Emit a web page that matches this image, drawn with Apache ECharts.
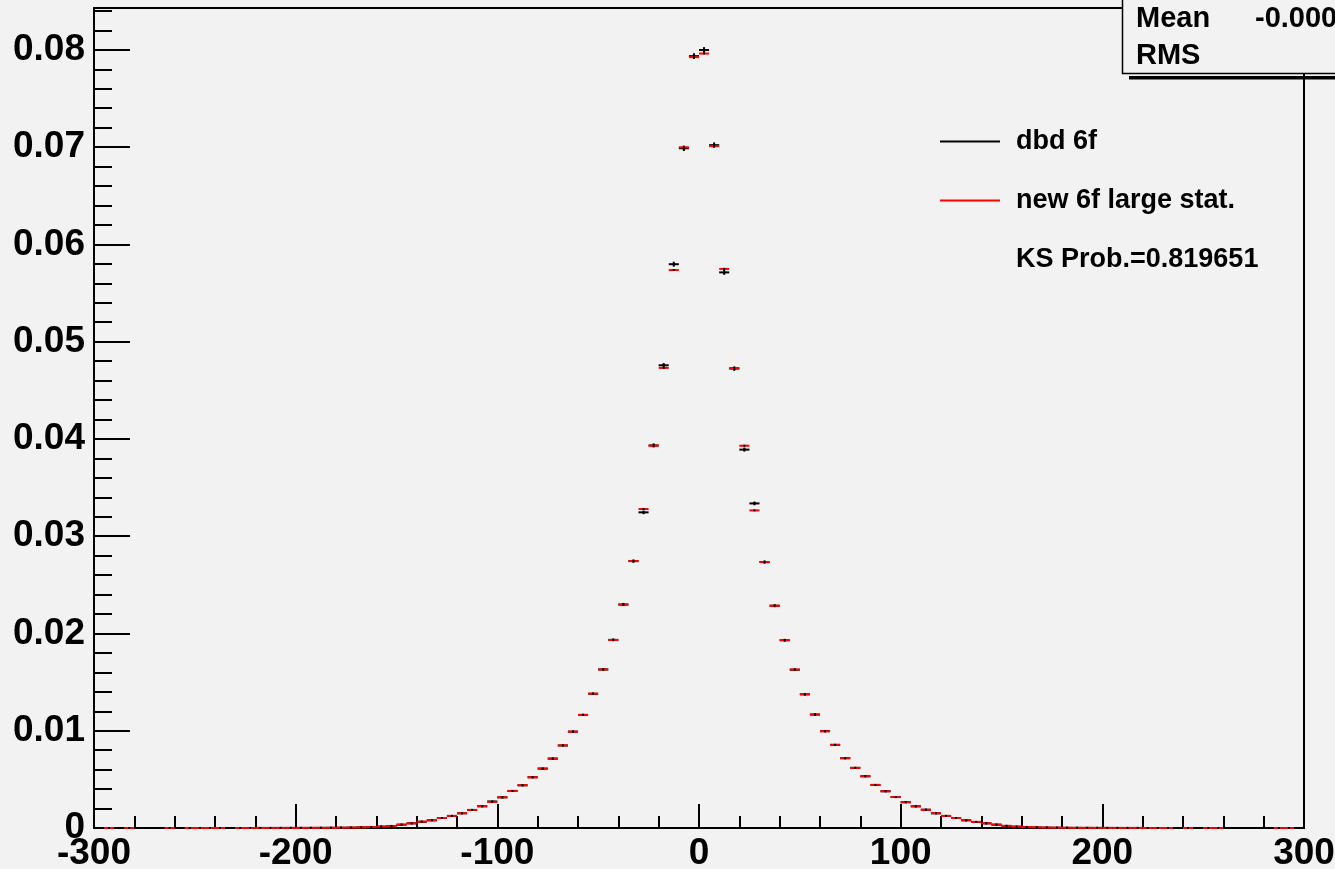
<!DOCTYPE html>
<html>
<head>
<meta charset="utf-8">
<script src="https://cdn.jsdelivr.net/npm/echarts@6/dist/echarts.min.js"></script>
<style>
html,body{margin:0;padding:0;background:#f2f2f2;}
#c{width:1335px;height:869px;}
</style>
</head>
<body>
<div id="c"></div>
<script>
// ---- histogram binning (bin centres, width 5, range -300..300) ----
const binWidth = 5;
const binCenters = [
  -297.5,-292.5,-287.5,-282.5,-277.5,-272.5,-267.5,-262.5,-257.5,-252.5,
  -247.5,-242.5,-237.5,-232.5,-227.5,-222.5,-217.5,-212.5,-207.5,-202.5,
  -197.5,-192.5,-187.5,-182.5,-177.5,-172.5,-167.5,-162.5,-157.5,-152.5,
  -147.5,-142.5,-137.5,-132.5,-127.5,-122.5,-117.5,-112.5,-107.5,-102.5,
  -97.5,-92.5,-87.5,-82.5,-77.5,-72.5,-67.5,-62.5,-57.5,-52.5,
  -47.5,-42.5,-37.5,-32.5,-27.5,-22.5,-17.5,-12.5,-7.5,-2.5,
  2.5,7.5,12.5,17.5,22.5,27.5,32.5,37.5,42.5,47.5,
  52.5,57.5,62.5,67.5,72.5,77.5,82.5,87.5,92.5,97.5,
  102.5,107.5,112.5,117.5,122.5,127.5,132.5,137.5,142.5,147.5,
  152.5,157.5,162.5,167.5,172.5,177.5,182.5,187.5,192.5,197.5,
  202.5,207.5,212.5,217.5,222.5,227.5,232.5,237.5,242.5,247.5,
  252.5,257.5,262.5,267.5,272.5,277.5,282.5,287.5,292.5,297.5
];

// ---- series "dbd 6f" (black) ----
const dbd6f = [
  null,0.000003,null,0.000003,null,null,null,0.000003,null,0.000003,
  0.000003,0.000003,0.000003,null,0.000003,0.000003,0.000005,0.000005,0.000006,0.000008,
  0.00001,0.000012,0.000015,0.00002,0.00003,0.00004,0.00006,0.00009,0.00014,0.0002,
  0.00034,0.00048,0.00064,0.00079,0.00103,0.00124,0.00151,0.00185,0.00224,0.00273,
  0.00315,0.00381,0.00439,0.00522,0.00611,0.00713,0.00848,0.00991,0.01163,0.0138,
  0.0163,0.01934,0.02298,0.02744,0.03245,0.03933,0.04757,0.05796,0.06988,0.07935,
  0.07998,0.0702,0.05712,0.04723,0.0389,0.03337,0.02734,0.02285,0.0193,0.01627,
  0.01374,0.01167,0.00996,0.00855,0.00718,0.00618,0.00532,0.00443,0.00378,0.00319,
  0.00265,0.00223,0.00188,0.00151,0.00124,0.00103,0.00079,0.00062,0.00048,0.00034,
  0.00021,0.00013,0.0001,0.00006,0.00004,0.00003,0.00002,0.000015,0.000012,0.00001,
  0.000008,0.000006,0.000005,0.000005,0.000003,0.000003,0.000003,null,0.000003,null,
  0.000003,0.000003,null,null,null,null,null,0.000003,0.000003,null
];

// ---- series "new 6f large stat." (red) ----
const new6f = [
  null,0.000003,null,0.000003,null,null,null,0.000003,null,0.000003,
  0.000003,0.000003,0.000003,null,0.000003,0.000003,0.000005,0.000005,0.000006,0.000008,
  0.00001,0.000012,0.000015,0.00002,0.00003,0.00004,0.00006,0.0001,0.00014,0.00021,
  0.00034,0.00048,0.00065,0.0008,0.00103,0.00124,0.00152,0.00186,0.00223,0.00268,
  0.00316,0.0038,0.0044,0.00521,0.0061,0.00714,0.0085,0.0099,0.01162,0.01381,
  0.0163,0.01933,0.02296,0.02744,0.03279,0.0393,0.0473,0.05736,0.06998,0.07925,
  0.07962,0.0701,0.05748,0.04729,0.0393,0.03265,0.02734,0.02285,0.01932,0.0163,
  0.01376,0.01166,0.00994,0.00854,0.00717,0.00618,0.00532,0.00442,0.00378,0.00318,
  0.00266,0.00223,0.00187,0.00152,0.00124,0.00103,0.0008,0.00063,0.00048,0.00035,
  0.00022,0.00014,0.0001,0.00006,0.00004,0.00003,0.00002,0.000015,0.000012,0.00001,
  0.000008,0.000006,0.000005,0.000005,0.000003,0.000003,0.000003,null,0.000003,null,
  0.000003,0.000003,null,null,null,null,null,0.000003,0.000003,null
];

// effective number of entries (histograms normalised to unit area; error = sqrt(content/N))
const dbdEntries = 900000;
const newEntries = 100000000;

// ---- axis ticks / labels ----
const xTickStep = 100;
const yMajorTicks = [0,0.01,0.02,0.03,0.04,0.05,0.06,0.07,0.08];
const yMinorTicks = [0.002,0.004,0.006,0.008,0.012,0.014,0.016,0.018,0.022,0.024,0.026,0.028,
  0.032,0.034,0.036,0.038,0.042,0.044,0.046,0.048,0.052,0.054,0.056,0.058,
  0.062,0.064,0.066,0.068,0.072,0.074,0.076,0.078,0.082,0.084];

const legendNames = ['dbd 6f','new 6f large stat.'];
const ksText = 'KS Prob.=0.819651';
const statsLabels = ['Mean','RMS'];
const statsValues = ['-0.000',''];

const FONT = '"Liberation Sans", Arial, Helvetica, sans-serif';

function buildData(values, entries) {
  const out = [];
  for (let i = 0; i < binCenters.length; i++) {
    if (values[i] == null) continue;
    out.push([binCenters[i], values[i], Math.sqrt(values[i] / entries)]);
  }
  return out;
}

function makeRender(color) {
  return function (params, api) {
    const xc = api.value(0), y = api.value(1), e = api.value(2);
    const p1 = api.coord([xc - binWidth / 2, y]);
    const p2 = api.coord([xc + binWidth / 2, y]);
    const cx = (p1[0] + p2[0]) / 2;
    const top = api.coord([xc, y + e]);
    const bot = api.coord([xc, y - e]);
    const children = [
      {type: 'line', shape: {x1: p1[0], y1: p1[1], x2: p2[0], y2: p2[1]},
       style: {stroke: color, lineWidth: 2}}
    ];
    if (bot[1] - top[1] > 2) {
      children.push({type: 'line', shape: {x1: cx, y1: top[1], x2: cx, y2: bot[1]},
        style: {stroke: color, lineWidth: 2}});
    }
    // marker (black dot, ROOT default marker colour)
    children.push({type: 'rect', shape: {x: cx - 1, y: p1[1] - 1, width: 2, height: 2},
      style: {fill: '#000'}});
    return {type: 'group', children: children};
  };
}

const chart = echarts.init(document.getElementById('c'));

const axisLineStyle = {color: '#000', width: 2};

chart.setOption({
  animation: false,
  backgroundColor: '#f2f2f2',
  grid: {left: 94, right: 31, top: 8, bottom: 41, containLabel: false, outerBoundsMode: 'none'},
  xAxis: [
    {
      type: 'value', min: -300, max: 300, interval: xTickStep, position: 'bottom',
      axisLine: {show: true, onZero: false, lineStyle: axisLineStyle},
      axisTick: {show: true, inside: true, length: 24, lineStyle: {color: '#000', width: 2}},
      minorTick: {show: true, splitNumber: 5, length: 12, lineStyle: {color: '#000', width: 2}},
      splitLine: {show: false},
      axisLabel: {show: true, color: '#000', fontSize: 37, fontWeight: 'bold', fontFamily: FONT, margin: 7}
    },
    {
      type: 'value', min: -300, max: 300, position: 'top',
      axisLine: {show: true, onZero: false, lineStyle: axisLineStyle},
      axisTick: {show: false}, axisLabel: {show: false}, splitLine: {show: false}
    }
  ],
  yAxis: [
    {
      type: 'value', min: 0, max: 0.0843, position: 'left',
      axisLine: {show: true, onZero: false, lineStyle: axisLineStyle},
      axisTick: {show: true, inside: true, length: 36, customValues: yMajorTicks,
                 lineStyle: {color: '#000', width: 2}},
      axisLabel: {show: true, customValues: yMajorTicks, color: '#000', fontSize: 37,
                  fontWeight: 'bold', fontFamily: FONT, margin: 9,
                  formatter: function (v) { return v === 0 ? '0' : v.toFixed(2); }},
      splitLine: {show: false}
    },
    {
      type: 'value', min: 0, max: 0.0843, position: 'left',
      axisLine: {show: false, onZero: false},
      axisTick: {show: true, inside: true, length: 18, customValues: yMinorTicks,
                 lineStyle: {color: '#000', width: 2}},
      axisLabel: {show: false}, splitLine: {show: false}
    },
    {
      type: 'value', min: 0, max: 0.0843, position: 'right',
      axisLine: {show: true, onZero: false, lineStyle: axisLineStyle},
      axisTick: {show: false}, axisLabel: {show: false}, splitLine: {show: false}
    }
  ],
  legend: {
    orient: 'vertical', left: 940, top: 128, itemWidth: 60, itemHeight: 2, itemGap: 32,
    padding: 0, selectedMode: false,
    data: [{name: legendNames[0], icon: 'rect'}, {name: legendNames[1], icon: 'rect'}],
    textStyle: {color: '#000', fontSize: 27, fontWeight: 'bold', fontFamily: FONT,
                padding: [0, 0, 0, 11]}
  },
  series: [
    {
      type: 'custom', name: legendNames[0], xAxisIndex: 0, yAxisIndex: 0,
      data: buildData(dbd6f, dbdEntries), encode: {x: 0, y: 1},
      itemStyle: {color: '#000'}, renderItem: makeRender('#000'), z: 3
    },
    {
      type: 'custom', name: legendNames[1], xAxisIndex: 0, yAxisIndex: 0,
      data: buildData(new6f, newEntries), encode: {x: 0, y: 1},
      itemStyle: {color: '#ff0000'}, renderItem: makeRender('#ff0000'), z: 4
    }
  ],
  graphic: [
    {type: 'text', left: 1016, top: 246, z: 10,
     style: {text: ksText, fill: '#000', font: 'bold 27px ' + FONT}},
    // stats box shadow
    {type: 'rect', z: 20, shape: {x: 1129, y: 76, width: 220, height: 3.5}, style: {fill: '#000'}},
    // stats box
    {type: 'rect', z: 21, shape: {x: 1122.5, y: -5, width: 230, height: 78.5},
     style: {fill: '#f2f2f2', stroke: '#000', lineWidth: 1.5}},
    {type: 'text', z: 22, left: 1136, top: 4,
     style: {text: statsLabels[0], fill: '#000', font: 'bold 29px ' + FONT}},
    {type: 'text', z: 22, left: 1255, top: 4,
     style: {text: statsValues[0], fill: '#000', font: 'bold 29px ' + FONT}},
    {type: 'text', z: 22, left: 1136, top: 41,
     style: {text: statsLabels[1], fill: '#000', font: 'bold 29px ' + FONT}}
  ]
});
</script>
</body>
</html>
